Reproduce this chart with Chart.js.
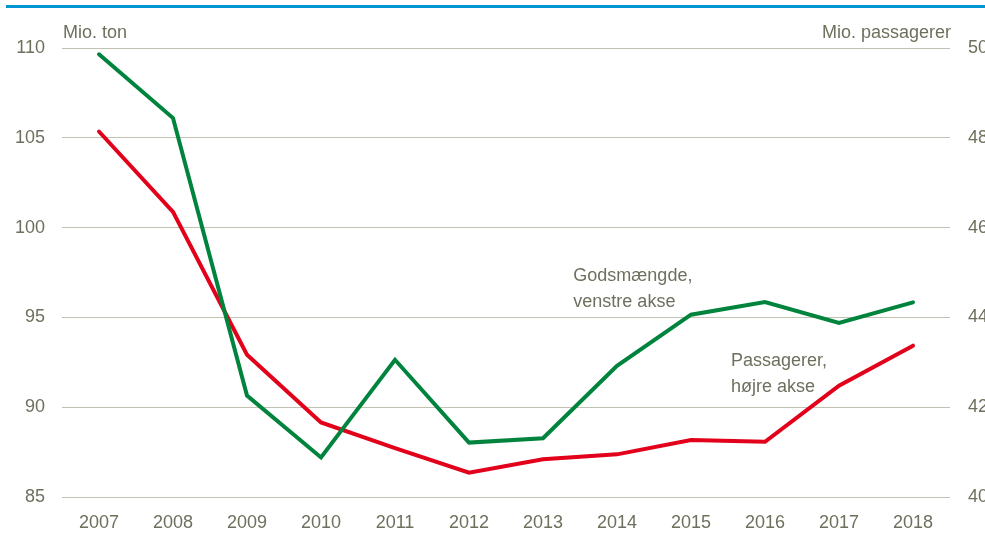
<!DOCTYPE html>
<html>
<head>
<meta charset="utf-8">
<script src="https://cdn.jsdelivr.net/npm/chart.js@4"></script>
<style>
  html, body { margin: 0; padding: 0; background: #fff; overflow: hidden; }
  #wrap { position: relative; width: 985px; height: 538px; overflow: hidden; }
  #topline { position: absolute; left: 6px; top: 5px; width: 979px; height: 2.5px; background: #0096d6; }
  canvas { position: absolute; left: 0; top: 0; }
</style>
</head>
<body>
<div id="wrap">
  <div id="topline"></div>
  <canvas id="chart" width="1010" height="538"></canvas>
</div>
<script>
// Data
const years = ["2007", "2008", "2009", "2010", "2011", "2012", "2013", "2014", "2015", "2016", "2017", "2018"];
const godsmaengde = [109.65, 106.1, 90.65, 87.2, 92.64, 88.03, 88.27, 92.3, 95.15, 95.86, 94.69, 95.84]; // mio. ton, venstre akse
const passagerer = [48.14, 46.35, 43.17, 41.66, 41.09, 40.54, 40.84, 40.95, 41.27, 41.23, 42.48, 43.37]; // mio. passagerer, hoejre akse
const leftTicks = [85, 90, 95, 100, 105, 110];
const rightTicks = [40, 42, 44, 46, 48, 50];
const leftUnit = "Mio. ton";
const rightUnit = "Mio. passagerer";
const godsLabel = ["Godsmængde,", "venstre akse"];
const passLabel = ["Passagerer,", "højre akse"];

const textColor = "#6f6f5e";
const fontFamily = "'Liberation Sans', Arial, sans-serif";

const labelsPlugin = {
  id: "labels",
  afterDraw(chart) {
    const ctx = chart.ctx;
    const area = chart.chartArea;
    const x = chart.scales.x;
    const yl = chart.scales.yLeft;
    ctx.save();
    ctx.fillStyle = textColor;
    ctx.font = "18px " + fontFamily;
    ctx.textBaseline = "alphabetic";
    // axis units
    ctx.textAlign = "left";
    ctx.fillText(leftUnit, area.left + 1, area.top - 10);
    ctx.textAlign = "right";
    ctx.fillText(rightUnit, area.right + 1, area.top - 10);
    // series annotations
    ctx.textAlign = "left";
    const gx = x.getPixelForValue(6.41);
    const gy = yl.getPixelForValue(97.05);
    godsLabel.forEach((t, i) => ctx.fillText(t, gx, gy + i * 26));
    const px = x.getPixelForValue(8.54);
    const py = yl.getPixelForValue(92.3);
    passLabel.forEach((t, i) => ctx.fillText(t, px, py + i * 26));
    ctx.restore();
  }
};

new Chart(document.getElementById("chart").getContext("2d"), {
  type: "line",
  data: {
    labels: years,
    datasets: [
      {
        label: "Godsmængde",
        data: godsmaengde,
        yAxisID: "yLeft",
        borderColor: "#00843d",
        borderWidth: 4,
        pointRadius: 0,
        tension: 0,
        fill: false,
        borderCapStyle: "round"
      },
      {
        label: "Passagerer",
        data: passagerer,
        yAxisID: "yRight",
        borderColor: "#e2001a",
        borderWidth: 4,
        pointRadius: 0,
        tension: 0,
        fill: false,
        borderCapStyle: "round"
      }
    ]
  },
  options: {
    responsive: false,
    animation: false,
    layout: { padding: { top: 48, left: 0, right: 0, bottom: 0 } },
    plugins: {
      legend: { display: false },
      tooltip: { enabled: false }
    },
    scales: {
      x: {
        offset: true,
        grid: { display: false, drawTicks: false },
        border: { display: false },
        ticks: {
          color: textColor,
          font: { family: fontFamily, size: 18 },
          padding: 15,
          maxRotation: 0,
          autoSkip: false
        },
        afterFit(scale) { scale.height = 41; }
      },
      yLeft: {
        position: "left",
        min: 85,
        max: 110,
        afterBuildTicks(scale) { scale.ticks = leftTicks.map(v => ({ value: v })); },
        grid: { color: "#c2c2b2", lineWidth: 1, drawTicks: false },
        border: { display: false },
        ticks: {
          color: textColor,
          font: { family: fontFamily, size: 18 },
          padding: 17
        },
        afterFit(scale) { scale.width = 62; }
      },
      yRight: {
        position: "right",
        min: 40,
        max: 50,
        afterBuildTicks(scale) { scale.ticks = rightTicks.map(v => ({ value: v })); },
        grid: { display: false, drawTicks: false },
        border: { display: false },
        ticks: {
          color: textColor,
          font: { family: fontFamily, size: 18 },
          padding: 18
        },
        afterFit(scale) { scale.width = 60; }
      }
    }
  },
  plugins: [labelsPlugin]
});
</script>
</body>
</html>
